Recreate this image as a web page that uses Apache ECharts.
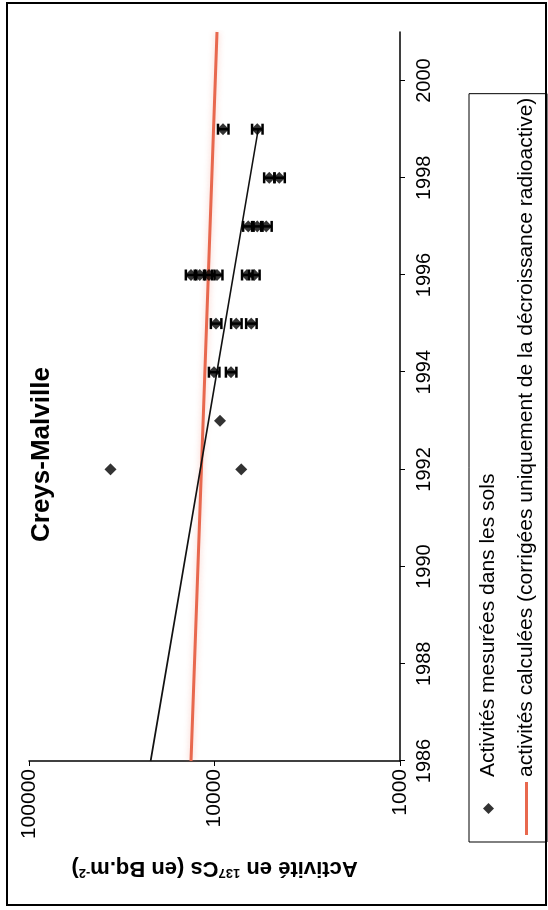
<!DOCTYPE html>
<html>
<head>
<meta charset="utf-8">
<script src="https://cdn.jsdelivr.net/npm/echarts@6/dist/echarts.min.js"></script>
<style>
  html, body { margin: 0; padding: 0; background: #fff; }
  body { width: 548px; height: 910px; overflow: hidden; position: relative; }
  /* the original page is printed sideways: draw the chart landscape, then turn it */
  #chart {
    position: absolute; left: 0; top: 910px;
    width: 910px; height: 548px;
    transform-origin: 0 0;
    transform: rotate(-90deg);
  }
</style>
</head>
<body>
<div id="chart"></div>
<script>
// axis ticks
const yearTicks = [1986, 1988, 1990, 1992, 1994, 1996, 1998, 2000]
const activityTicks = [1000, 10000, 100000]

// measured soil activities (Bq/m2), relative error (0 = no bar)
const measuredYears  = [1992, 1992, 1993, 1994, 1994, 1995, 1995, 1995, 1996, 1996, 1996, 1996, 1996, 1996, 1997, 1997, 1997, 1998, 1998, 1999, 1999]
const measuredValues = [36400, 7180, 9330, 10060, 8150, 9820, 7640, 6340, 13400, 12000, 10700, 9690, 6670, 6110, 6580, 5890, 5260, 5070, 4470, 8990, 5890]
const measuredErrors = [0, 0, 0, 0.065, 0.065, 0.065, 0.065, 0.065, 0.065, 0.065, 0.065, 0.065, 0.065, 0.065, 0.065, 0.065, 0.065, 0.065, 0.065, 0.065, 0.065]

// exponential trend through the measurements
const trendYears  = [1986, 1999]
const trendValues = [22100, 5810]

// activity corrected only for radioactive decay
const decayYears  = [1986, 2001]
const decayValues = [13400, 9690]

const FONT = '"Liberation Sans", Arial, sans-serif'
const NAME_MEASURED = 'Activités mesurées dans les sols'
const NAME_DECAY = 'activités calculées (corrigées uniquement de la décroissance radioactive)'

const chart = echarts.init(document.getElementById('chart'))

const measured = measuredYears.map((y, i) => [y, measuredValues[i]])
const errorBars = measuredYears
  .map((y, i) => [y, measuredValues[i] * (1 - measuredErrors[i]), measuredValues[i] * (1 + measuredErrors[i])])
  .filter((d, i) => measuredErrors[i] > 0)

chart.setOption({
  backgroundColor: '#fff',
  animation: false,
  textStyle: { fontFamily: FONT, color: '#000' },
  title: {
    text: 'Creys-Malville',
    left: 368, top: 29, padding: 0,
    textStyle: { fontFamily: FONT, fontSize: 26, fontWeight: 'bold', color: '#000' }
  },
  legend: {
    data: [
      { name: NAME_MEASURED, icon: 'path://M5,0 L10,5 L5,10 L0,5 Z' },
      { name: NAME_DECAY, icon: 'path://M0,0 L53,0 L53,3 L0,3 Z' }
    ],
    orient: 'vertical',
    left: 68, top: 469,
    padding: [9, 4, 10, 7],
    itemWidth: 53, itemHeight: 11, itemGap: 17,
    symbolKeepAspect: true,
    borderColor: '#000', borderWidth: 1,
    textStyle: { fontFamily: FONT, fontSize: 21, color: '#000' }
  },
  grid: { left: 149, right: 32, top: 29, bottom: 148 },
  xAxis: {
    type: 'value', min: 1986, max: 2001,
    axisLine: { lineStyle: { color: '#000', width: 1.5 } },
    axisTick: { customValues: yearTicks, length: 5, lineStyle: { color: '#000' } },
    axisLabel: { customValues: yearTicks, formatter: v => String(v), fontFamily: FONT, fontSize: 20, color: '#000', margin: 14 },
    splitLine: { show: false }
  },
  yAxis: {
    type: 'log', logBase: 10, min: 1000, max: 100000,
    axisLine: { show: true, lineStyle: { color: '#000', width: 1.5 } },
    axisTick: { show: true, customValues: activityTicks, length: 5, lineStyle: { color: '#000' } },
    axisLabel: { customValues: activityTicks, formatter: v => String(v), fontFamily: FONT, fontSize: 21, color: '#000', margin: 8 },
    splitLine: { show: false },
    name: 'Activité en {sup|137}Cs (en Bq.m{sup|-2})',
    nameLocation: 'middle',
    nameGap: 96,
    nameTextStyle: {
      fontFamily: FONT, fontSize: 22, fontWeight: 'bold', color: '#000',
      rich: { sup: { fontFamily: FONT, fontSize: 13, fontWeight: 'bold', color: '#000', verticalAlign: 'top' } }
    }
  },
  graphic: [{
    type: 'rect', silent: true,
    shape: { x: 5, y: 7, width: 902, height: 539 },
    style: { fill: 'none', stroke: '#000', lineWidth: 2 }
  }],
  series: [
    {
      name: NAME_DECAY,
      type: 'line',
      data: decayYears.map((y, i) => [y, decayValues[i]]),
      symbol: 'none',
      lineStyle: { color: '#e8684e', width: 3, shadowColor: 'rgba(240,130,110,0.45)', shadowBlur: 6 },
      itemStyle: { color: '#e8684e' },
      z: 2
    },
    {
      name: 'tendance',
      type: 'line',
      data: trendYears.map((y, i) => [y, trendValues[i]]),
      symbol: 'none',
      lineStyle: { color: '#111', width: 1.6 },
      z: 3
    },
    {
      name: 'barres',
      type: 'custom',
      data: errorBars,
      z: 4,
      renderItem: (params, api) => {
        const lo = api.coord([api.value(0), api.value(1)])
        const hi = api.coord([api.value(0), api.value(2)])
        const cap = 5.5
        const style = { stroke: '#000', lineWidth: 2.5 }
        return {
          type: 'group',
          children: [
            { type: 'line', shape: { x1: lo[0], y1: lo[1], x2: hi[0], y2: hi[1] }, style },
            { type: 'line', shape: { x1: lo[0] - cap, y1: lo[1], x2: lo[0] + cap, y2: lo[1] }, style },
            { type: 'line', shape: { x1: hi[0] - cap, y1: hi[1], x2: hi[0] + cap, y2: hi[1] }, style }
          ]
        }
      }
    },
    {
      name: NAME_MEASURED,
      type: 'scatter',
      data: measured,
      symbol: 'diamond',
      symbolSize: 12,
      symbolKeepAspect: true,
      itemStyle: { color: '#000' },
      z: 5
    }
  ]
})
</script>
</body>
</html>
